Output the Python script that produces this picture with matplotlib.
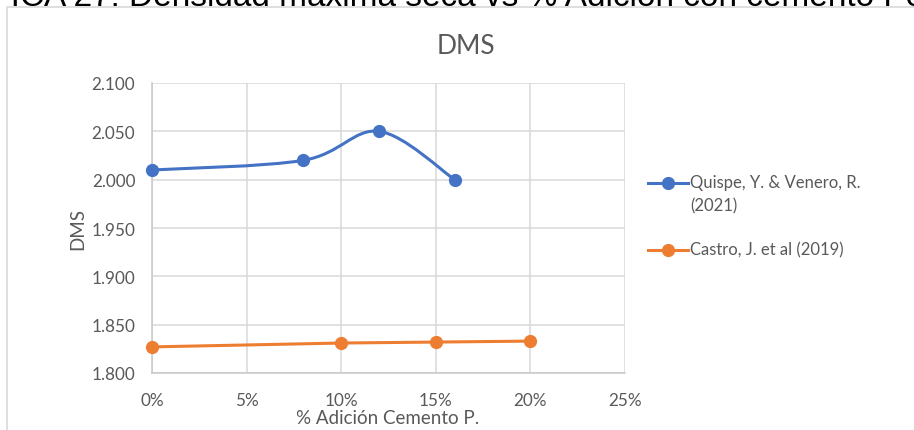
import matplotlib
matplotlib.use("Agg")
import matplotlib.pyplot as plt
from matplotlib.path import Path
from matplotlib.patches import PathPatch, Rectangle
from matplotlib.lines import Line2D
import numpy as np

# Series data
quispe_x = [0.00, 0.08, 0.12, 0.16]
quispe_y = [2.010, 2.020, 2.050, 2.000]
castro_x = [0.00, 0.10, 0.15, 0.20]
castro_y = [1.827, 1.831, 1.832, 1.833]

quispe_label = "Quispe, Y. & Venero, R.\n(2021)"
castro_label = "Castro, J. et al (2019)"

x_ticks = [0.00, 0.05, 0.10, 0.15, 0.20, 0.25]
x_ticklabels = ["0%", "5%", "10%", "15%", "20%", "25%"]
y_ticks = [1.800, 1.850, 1.900, 1.950, 2.000, 2.050, 2.100]
y_ticklabels = ["1.800", "1.850", "1.900", "1.950", "2.000", "2.050", "2.100"]

BLUE = "#4472C4"
ORANGE = "#ED7D31"
GRID = "#d9d9d9"
TXT = "#595959"
FONT = "Lato"

W, H = 914, 431
fig = plt.figure(figsize=(W / 100, H / 100), dpi=100)
fig.patch.set_facecolor("white")


def fx(px):
    return px / W


def fy(py):
    return 1 - py / H


# Caption above the chart frame (partially outside the canvas)
fig.text(fx(-82), fy(6), "GRÁFICA 27: Densidad máxima seca vs % Adición con cemento Portland",
         fontsize=24, family="Liberation Sans", color="black", va="baseline", ha="left")

# Chart frame
fig.patches.append(Rectangle((fx(7), fy(440)), fx(940), fy(8) - fy(440),
                             transform=fig.transFigure, fill=False,
                             edgecolor=GRID, linewidth=1.2))

ax = fig.add_axes([fx(152), fy(374), fx(625) - fx(152), fy(84) - fy(374)])
ax.set_xlim(0, 0.25)
ax.set_ylim(1.8, 2.1)
ax.set_xticks(x_ticks)
ax.set_xticklabels(x_ticklabels)
ax.set_yticks(y_ticks)
ax.set_yticklabels(y_ticklabels)
ax.grid(True, color=GRID, linewidth=1.1)
ax.set_axisbelow(True)
for s in ["top", "right"]:
    ax.spines[s].set_visible(False)
for s in ["left", "bottom"]:
    ax.spines[s].set_color("#c8c8c8")
    ax.spines[s].set_linewidth(1.1)
ax.tick_params(length=0, labelsize=12.3, labelcolor=TXT)
ax.tick_params(axis="y", pad=12)
ax.tick_params(axis="x", pad=14)
for lab in ax.get_xticklabels() + ax.get_yticklabels():
    lab.set_family(FONT)


def smooth_path(xs, ys):
    # Cardinal (Catmull-Rom) Bezier segments through every point
    pts = np.column_stack([xs, ys]).astype(float)
    n = len(pts)
    verts = [pts[0]]
    codes = [Path.MOVETO]
    for i in range(n - 1):
        p0 = pts[i - 1] if i > 0 else pts[i]
        p1 = pts[i]
        p2 = pts[i + 1]
        p3 = pts[i + 2] if i + 2 < n else pts[i + 1]
        c1 = p1 + (p2 - p0) / 6.0
        c2 = p2 - (p3 - p1) / 6.0
        verts += [c1, c2, p2]
        codes += [Path.CURVE4] * 3
    return Path(verts, codes)


ax.add_patch(PathPatch(smooth_path(quispe_x, quispe_y), fill=False,
                       edgecolor=BLUE, linewidth=2.2, capstyle="round", zorder=3))
ax.plot(quispe_x, quispe_y, linestyle="none", marker="o", markersize=8.5,
        color=BLUE, zorder=4, clip_on=False)
ax.plot(castro_x, castro_y, linestyle="-", linewidth=2.2, marker="o", markersize=8.5,
        color=ORANGE, zorder=4, clip_on=False, solid_capstyle="round")

# Chart title
fig.text(fx(466), fy(47), "DMS", fontsize=19, color=TXT, family=FONT,
         ha="center", va="center")

ax.set_xlabel("% Adición Cemento P.", fontsize=13.5, color=TXT, family=FONT)
ax.xaxis.set_label_coords(0.497, (374 - 418) / 290.0)
ax.xaxis.label.set_va("center")
ax.set_ylabel("DMS", fontsize=13.5, color=TXT, family=FONT)
ax.yaxis.set_label_coords((78 - 152) / 473.0, 0.5)
ax.yaxis.label.set_va("center")

# Legend keys and entries
legend_items = [(BLUE, quispe_label, 184), (ORANGE, castro_label, 251)]
for color, label, ypx in legend_items:
    fig.add_artist(Line2D([fx(648), fx(688)], [fy(ypx), fy(ypx)], transform=fig.transFigure,
                          color=color, linewidth=2.2))
    fig.add_artist(Line2D([fx(668)], [fy(ypx)], transform=fig.transFigure,
                          color=color, marker="o", markersize=8.5, linestyle="none"))
    fig.text(fx(690), fy(ypx - 9), label, fontsize=12, color=TXT, family=FONT,
             ha="left", va="top", linespacing=1.55)

fig.savefig("out.png", dpi=100, facecolor="white")
